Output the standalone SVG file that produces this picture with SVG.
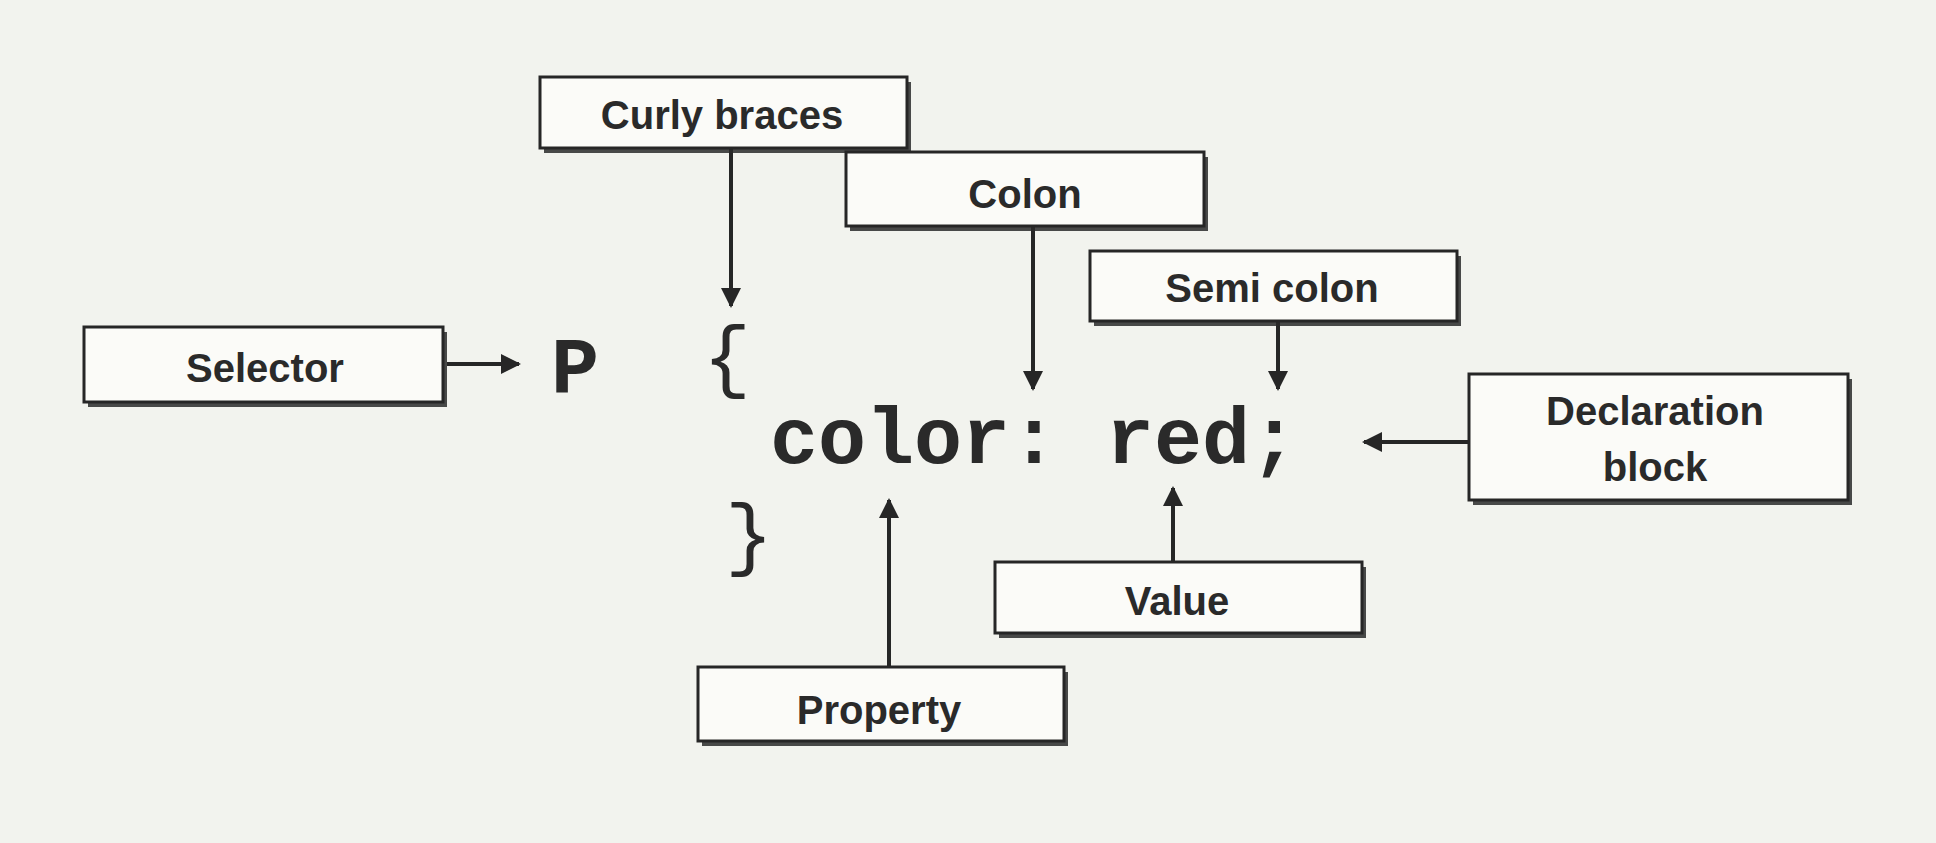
<svg xmlns="http://www.w3.org/2000/svg" width="1936" height="843" viewBox="0 0 1936 843">
<style>
.box{fill:#fbfbf8;stroke:#262626;stroke-width:3}
.sh{fill:#2a2a2a;opacity:0.85}
.lbl{font-family:"Liberation Sans",Arial,sans-serif;font-weight:bold;font-size:40px;fill:#2a2a2a;text-anchor:middle}
.code{font-family:"Liberation Mono","Courier New",monospace;font-size:80px;fill:#2a2a2a}
.conn{stroke:#262626;stroke-width:4;fill:none;marker-end:url(#ah)}
</style>
<defs>
<marker id="ah" viewBox="0 0 10 10" refX="9" refY="5" markerWidth="5" markerHeight="5" orient="auto" markerUnits="strokeWidth">
<path d="M0,0 L10,5 L0,10 z" fill="#262626"/>
</marker>
</defs>
<rect width="1936" height="843" fill="#f2f3ee"/>

<g id="connectors">
<line class="conn" x1="731" y1="148" x2="731" y2="306"/>
<line class="conn" x1="1033" y1="226" x2="1033" y2="389"/>
<line class="conn" x1="1278" y1="321" x2="1278" y2="389"/>
<line class="conn" x1="447" y1="364" x2="519" y2="364"/>
<line class="conn" x1="1469" y1="442" x2="1364" y2="442"/>
<line class="conn" x1="1173" y1="562" x2="1173" y2="488"/>
<line class="conn" x1="889" y1="667" x2="889" y2="500"/>
</g>

<g id="code">
<text class="code" x="551" y="393" font-weight="bold" font-size="62">P</text>
<text class="code" x="703" y="382" font-size="66">{</text>
<text class="code" x="725" y="560" font-size="66">}</text>
<text class="code" x="770" y="463" font-weight="bold">color: red;</text>
</g>

<g id="node-curly">
<rect class="sh" x="544" y="82" width="367" height="71"/>
<rect class="box" x="540" y="77" width="367" height="71"/>
<text class="lbl" x="722" y="129">Curly braces</text>
</g>
<g id="node-colon">
<rect class="sh" x="850" y="157" width="358" height="74"/>
<rect class="box" x="846" y="152" width="358" height="74"/>
<text class="lbl" x="1025" y="208">Colon</text>
</g>
<g id="node-semicolon">
<rect class="sh" x="1094" y="256" width="367" height="70"/>
<rect class="box" x="1090" y="251" width="367" height="70"/>
<text class="lbl" x="1272" y="302">Semi colon</text>
</g>
<g id="node-selector">
<rect class="sh" x="88" y="332" width="359" height="75"/>
<rect class="box" x="84" y="327" width="359" height="75"/>
<text class="lbl" x="265" y="382">Selector</text>
</g>
<g id="node-declaration">
<rect class="sh" x="1473" y="379" width="379" height="126"/>
<rect class="box" x="1469" y="374" width="379" height="126"/>
<text class="lbl" x="1655" y="425">Declaration</text>
<text class="lbl" x="1655" y="481">block</text>
</g>
<g id="node-value">
<rect class="sh" x="999" y="567" width="367" height="71"/>
<rect class="box" x="995" y="562" width="367" height="71"/>
<text class="lbl" x="1177" y="615">Value</text>
</g>
<g id="node-property">
<rect class="sh" x="702" y="672" width="366" height="74"/>
<rect class="box" x="698" y="667" width="366" height="74"/>
<text class="lbl" x="879" y="724">Property</text>
</g>
</svg>
